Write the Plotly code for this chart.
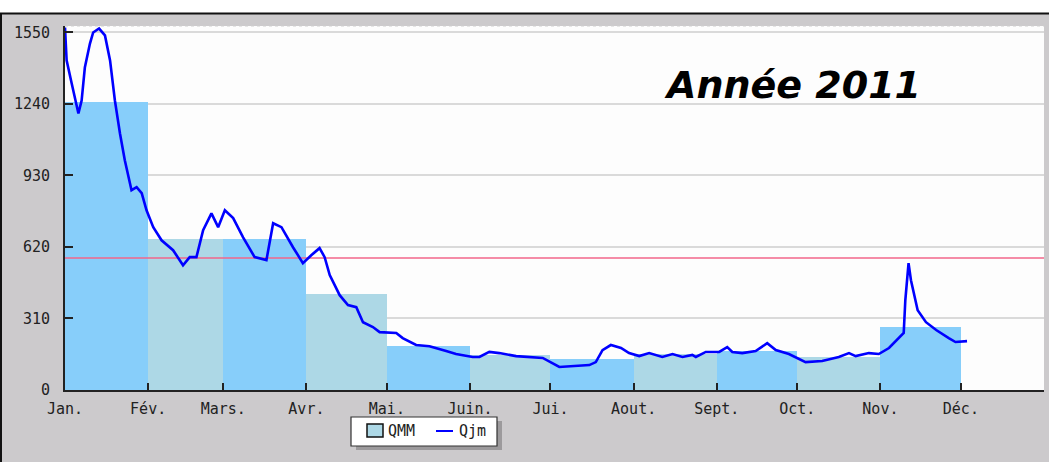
import plotly.graph_objects as go

# ---------------- data ----------------
month_labels = ["Jan.", "Fév.", "Mars.", "Avr.", "Mai.", "Juin.", "Jui.",
                "Aout.", "Sept.", "Oct.", "Nov.", "Déc."]
month_starts = [0, 31, 59, 90, 120, 151, 181, 212, 243, 273, 304, 334, 365]
qmm_months_len = [31, 28, 31, 30, 31, 30, 31, 31, 30, 31, 30]
qmm_values = [1250, 656, 656, 417, 192, 152, 135, 155, 168, 142, 272]
y_ticks = [0, 310, 620, 930, 1240, 1550]
module_value = 572

qjm_days = [0, 0.6, 2.5, 5.0, 6.2, 7.4, 9.3, 10.5, 12.7, 14.9, 16.8, 18.6, 20.5,
            22.3, 24.8, 26.7, 28.6, 30.4, 32.9, 36.0, 40.3, 44.0, 46.5, 49.0,
            51.5, 54.6, 57.1, 59.6, 62.7, 66.4, 70.7, 75.1, 77.6, 80.7, 85.0,
            88.7, 91.8, 94.9, 96.8, 98.7, 102.4, 105.5, 108.6, 111.1, 114.8,
            117.3, 123.5, 125.9, 130.9, 135.9, 142.1, 145.8, 152.0, 154.5,
            158.2, 161.9, 168.2, 174.3, 178.1, 184.3, 195.5, 197.9, 200.4,
            203.5, 207.3, 210.3, 214.1, 217.8, 222.7, 226.5, 230.2, 233.9,
            235.2, 238.9, 243.9, 246.9, 248.8, 252.5, 257.5, 261.8, 265.0,
            269.9, 276.1, 282.3, 288.5, 292.3, 294.8, 299.7, 303.4, 307.2,
            310.2, 312.7, 313.3, 314.5, 315.4, 317.9, 321.0, 324.8, 329.5,
            332.0, 336.3]
qjm_values = [1571, 1429, 1329, 1199, 1255, 1398, 1502, 1550, 1567, 1537, 1429,
              1255, 1112, 996, 866, 879, 853, 779, 706, 649, 606, 541, 576, 576,
              693, 766, 706, 779, 745, 662, 576, 563, 723, 706, 619, 550, 584,
              615, 576, 498, 411, 368, 359, 294, 273, 251, 247, 225, 195, 190,
              169, 156, 143, 143, 165, 160, 147, 143, 139, 100, 108, 121, 173,
              195, 182, 160, 147, 160, 143, 156, 143, 152, 143, 165, 165, 186,
              165, 160, 169, 203, 173, 156, 121, 126, 143, 160, 147, 160, 156,
              182, 216, 247, 390, 550, 476, 346, 294, 260, 225, 208, 212]

# ---------------- geometry helpers ----------------
W, H = 1049, 462
ML, MR, MT, MB = 65, 5, 26, 72
PW, PH = W - ML - MR, H - MT - MB


def px(x):
    return (x - ML) / PW


def py(y):
    return (H - MB - y) / PH


bar_colors = ["#87CEFA" if i % 2 == 0 else "#ADD8E6" for i in range(len(qmm_values))]
bar_x = [month_starts[i] + qmm_months_len[i] / 2 for i in range(len(qmm_values))]

fig = go.Figure()
fig.add_trace(go.Bar(
    x=bar_x, y=qmm_values, width=qmm_months_len,
    marker=dict(color=bar_colors, line=dict(width=0)),
    name="QMM", showlegend=False, hoverinfo="skip"))
fig.add_trace(go.Scatter(
    x=[month_starts[0], month_starts[-1]], y=[module_value, module_value],
    mode="lines", line=dict(color="#F2668A", width=1.5),
    showlegend=False, hoverinfo="skip"))
fig.add_trace(go.Scatter(
    x=qjm_days, y=qjm_values, mode="lines",
    line=dict(color="#0000FF", width=2.6),
    name="Qjm", showlegend=False))

mono = "DejaVu Sans Mono"

shapes = [
    # top white strip and frame
    dict(type="rect", xref="paper", yref="paper", x0=px(-5), x1=px(W + 5),
         y0=py(13), y1=py(-5), fillcolor="white", line=dict(width=0)),
    dict(type="line", xref="paper", yref="paper", x0=px(0), x1=px(W + 5),
         y0=py(13.5), y1=py(13.5), line=dict(color="#111", width=2)),
    dict(type="line", xref="paper", yref="paper", x0=px(1), x1=px(1),
         y0=py(13.5), y1=py(H + 5), line=dict(color="#111", width=2)),
    # dotted top line of plot area
    dict(type="line", xref="paper", yref="paper", x0=0, x1=1, y0=1, y1=1,
         line=dict(color="#cfcfcf", width=1, dash="dot")),
    # legend
    dict(type="rect", xref="paper", yref="paper", x0=px(356), x1=px(502),
         y0=py(450), y1=py(421), fillcolor="#9c9a9c", line=dict(width=0)),
    dict(type="rect", xref="paper", yref="paper", x0=px(351), x1=px(497),
         y0=py(446), y1=py(417), fillcolor="white",
         line=dict(color="#333", width=1.2)),
    dict(type="rect", xref="paper", yref="paper", x0=px(367), x1=px(383),
         y0=py(437), y1=py(424), fillcolor="#ADD8E6",
         line=dict(color="#111", width=1.5)),
    dict(type="line", xref="paper", yref="paper", x0=px(436), x1=px(453),
         y0=py(431), y1=py(431), line=dict(color="#0000FF", width=2)),
]

annotations = [
    dict(xref="paper", yref="paper", x=px(386), y=py(431), text="QMM",
         showarrow=False, xanchor="left", yanchor="middle",
         font=dict(family=mono, size=15, color="#222")),
    dict(xref="paper", yref="paper", x=px(457), y=py(431), text="Qjm",
         showarrow=False, xanchor="left", yanchor="middle",
         font=dict(family=mono, size=15, color="#222")),
    dict(xref="paper", yref="paper", x=px(792), y=py(85),
         text="<b><i>Année 2011</i></b>", showarrow=False,
         xanchor="center", yanchor="middle",
         font=dict(family="DejaVu Sans", size=38, color="black")),
]

fig.update_layout(
    width=W, height=H, autosize=False,
    margin=dict(l=ML, r=MR, t=MT, b=MB, pad=0),
    paper_bgcolor="#CCCACC", plot_bgcolor="#FDFDFD",
    bargap=0, showlegend=False,
    shapes=shapes, annotations=annotations,
    xaxis=dict(range=[0, 365], tickvals=month_starts,
               ticktext=month_labels + [""], ticks="inside", ticklen=7,
               tickwidth=2, tickcolor="#222", showline=True, linecolor="#222",
               linewidth=2, showgrid=False, zeroline=False,
               tickfont=dict(family=mono, size=15, color="#222"),
               ticklabelstandoff=4),
    yaxis=dict(range=[0, 1578], tickvals=y_ticks, ticks="inside", ticklen=8,
               tickwidth=2, tickcolor="#222", showline=True, linecolor="#222",
               linewidth=2, showgrid=True, gridcolor="#dadada", gridwidth=1.5,
               zeroline=False, tickfont=dict(family=mono, size=15, color="#222"),
               ticklabelstandoff=10),
)

fig.write_html("out.html",
               config={"displayModeBar": False},
               post_script="document.body.style.margin='0';document.body.style.overflow='hidden';")
